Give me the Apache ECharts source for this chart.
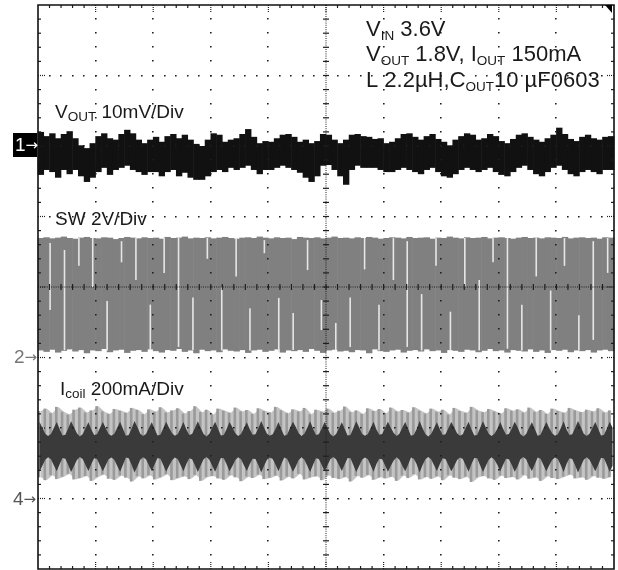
<!DOCTYPE html>
<html><head><meta charset="utf-8">
<script src="https://cdn.jsdelivr.net/npm/echarts@6/dist/echarts.min.js"></script>
<style>html,body{margin:0;padding:0;background:#fff}#c{width:618px;height:570px}</style>
</head><body><div id="c"></div>
<script>
// ---- scope geometry (divisions) ----
const DIVS_X = 10, DIVS_Y = 8, SUB = 5;
const COL = 0.1;   // one sample column = 0.1 div of time
const COL2 = 0.05; // finer sampling used for the coil-current envelope

// ---- channel 1 : VOUT ripple, mV relative to marker 1 (10 mV/div) ----
const voutHi = [2.0,1.4,1.8,1.1,1.7,2.1,1.1,0.1,-0.3,0.4,1.4,1.8,1.1,0.9,1.7,2.3,1.8,0.9,0.4,0.9,
1.3,0.6,1.4,1.7,1.1,1.6,0.9,0.3,0,0.9,
1.8,1.6,0.6,0.9,1.1,1.7,2.4,1.3,0.4,0.7,
0.6,1.1,1.6,1.7,1.3,0.6,0.9,0.4,0.7,1.7,
1.6,0.9,0.4,0.9,1.6,1.7,1.4,1.3,1.0,1.1,
0.4,0.6,1.1,1.7,1.8,1.3,0.9,1.4,1.7,1.0,
0.6,0.1,0.9,1.4,1.8,1.6,0.9,1.1,1.7,1.4,
0.7,0.4,1.0,1.6,1.8,1.3,0.9,0.6,1.1,1.6,
2.6,1.7,1.0,0.7,1.3,1.6,1.1,0.9,1.3,1.4];
const voutLo = [-4.1,-3.4,-3.7,-4.5,-3.4,-4.0,-3.4,-4.3,-5.1,-4.5,-3.7,-3.1,-4.1,-3.4,-3.1,-2.8,-3.4,-3.7,-4.1,-3.7,
-3.7,-4.3,-3.7,-3.4,-4.3,-3.8,-4.5,-4.8,-4.8,-4.3,
-3.7,-3.4,-3.7,-3.1,-3.4,-3.1,-2.8,-3.4,-4.0,-3.4,
-3.4,-3.1,-2.8,-3.1,-3.4,-3.8,-4.5,-5.1,-4.3,-2.8,
-2.7,-3.4,-4.3,-5.5,-3.4,-2.8,-3.1,-3.1,-3.1,-3.4,
-3.7,-3.7,-3.4,-3.1,-3.4,-3.7,-4.0,-3.4,-3.1,-3.7,
-4.3,-4.5,-4.0,-3.4,-3.1,-3.4,-3.7,-3.4,-3.1,-3.7,
-4.1,-4.3,-3.7,-3.1,-2.8,-3.4,-4.0,-4.3,-3.7,-3.1,
-2.8,-3.4,-4.0,-4.3,-3.7,-3.4,-3.7,-4.0,-3.4,-3.4];

// ---- channel 2 : SW node, V relative to marker 2 (2 V/div) ----
const swHi = [3.39,3.41,3.38,3.40,3.43,3.39,3.37,3.40,3.42,3.39,3.38,3.41,3.40,3.36,3.39,3.42,3.40,3.38,3.41,3.39,
3.40,3.37,3.42,3.39,3.40,3.43,3.38,3.40,3.39,3.41,3.38,3.40,3.42,3.39,3.37,3.40,3.41,3.39,3.43,3.40,
3.38,3.41,3.39,3.40,3.36,3.42,3.40,3.39,3.41,3.38,3.40,3.43,3.39,3.40,3.38,3.41,3.39,3.42,3.40,3.37,
3.39,3.41,3.40,3.38,3.42,3.39,3.40,3.41,3.37,3.40,3.39,3.43,3.40,3.38,3.41,3.39,3.40,3.42,3.38,3.40,
3.41,3.39,3.37,3.40,3.42,3.39,3.40,3.38,3.41,3.40,3.39,3.42,3.38,3.40,3.41,3.39,3.40,3.37,3.41,3.40];
const swLo = [0.20,0.16,0.22,0.14,0.19,0.23,0.17,0.21,0.12,0.20,0.18,0.24,0.15,0.20,0.22,0.13,0.19,0.21,0.16,0.23,
0.18,0.14,0.21,0.19,0.24,0.16,0.20,0.12,0.22,0.18,0.20,0.15,0.23,0.19,0.17,0.21,0.13,0.20,0.22,0.16,
0.19,0.23,0.14,0.20,0.18,0.21,0.16,0.24,0.19,0.13,0.20,0.22,0.17,0.19,0.15,0.21,0.20,0.12,0.23,0.18,
0.16,0.20,0.22,0.14,0.19,0.21,0.17,0.23,0.18,0.20,0.13,0.21,0.19,0.16,0.22,0.20,0.15,0.19,0.24,0.18,
0.20,0.14,0.21,0.19,0.17,0.23,0.16,0.20,0.13,0.21,0.19,0.22,0.15,0.20,0.18,0.21,0.14,0.20,0.22,0.18];
// thin light gaps through the SW band: time (div), top (V), bottom (V)
const swGapX   = [0.21,0.46,0.71,0.95,1.20,1.45,1.70,1.95,2.19,2.44,2.69,2.94,3.19,3.44,3.68,3.93,4.18,4.43,4.68,4.92,
5.17,5.42,5.67,5.92,6.17,6.41,6.66,6.91,7.16,7.41,7.66,7.90,8.15,8.40,8.65,8.90,9.14,9.39,9.64,9.89];
const swGapTop = [3.25,3.05,3.39,3.39,1.6,3.3,3.39,1.5,3.39,3.39,1.7,3.39,2.0,3.39,1.4,3.33,1.69,1.26,3.33,1.63,
0.98,1.7,3.39,1.5,3.39,3.3,1.8,3.39,1.3,3.39,2.2,3.39,3.39,1.5,3.39,1.9,3.39,1.2,3.3,3.39];
const swGapBot = [1.35,0.21,2.6,2.0,0.2,2.7,2.2,0.21,2.4,0.3,0.21,2.8,0.2,2.3,0.2,2.96,0.16,0.21,2.48,0.78,
0.21,0.3,2.5,0.2,2.2,0.3,0.2,2.6,0.2,2.0,0.2,2.7,0.25,0.2,2.3,0.2,2.6,0.2,0.5,2.4];

// ---- channel 4 : coil current, mA relative to marker 4 (200 mA/div) ----
const icoilOutHi = [248,255,242,260,246,238,252,258,244,250,262,247,240,254,249,243,257,251,239,253,
246,259,244,250,256,241,248,262,245,252,238,255,249,243,258,247,251,240,256,248,
244,260,250,242,253,247,257,239,252,246,255,243,249,261,245,250,240,256,248,254,
242,258,247,251,244,259,249,241,255,246,252,238,257,248,243,260,250,245,254,247,
241,256,249,253,244,258,246,251,240,255,248,243,257,250,245,252,247,256,244,250];
const icoilOutLo = [60,52,66,55,62,70,54,58,64,50,61,68,56,53,65,59,48,63,57,66,
54,60,69,52,58,63,55,67,50,61,64,57,53,66,60,49,62,58,68,55,
59,65,51,62,57,70,54,60,63,52,66,58,55,61,48,64,59,67,53,60,
57,62,50,65,58,69,54,61,56,63,52,66,59,55,62,47,60,64,57,53,
65,58,61,54,67,56,60,50,63,58,55,62,68,57,60,53,64,59,56,61];
// dense (dark) part of the coil current, sampled every 0.05 div
const icoilInHi = [
218,201,184,177,183,200,217,197,179,181,199, 219,202,185,176,182,199,216,196,180,182,200,
217,200,183,178,184,201,218,198,178,180,198, 220,203,184,177,183,200,216,197,179,181,199,
218,201,186,178,182,199,217,196,180,183,200, 219,200,183,176,184,201,218,198,179,180,197,
217,202,185,177,183,200,216,197,181,182,199, 220,201,184,178,182,198,217,196,178,181,200,
218,203,185,177,184,201,219,198,180,182,198, 217,200,183,176,183,199,216,197,179,180,199,
219,202,184,178,182,200,218,196,181,183,200, 218,201,186,177,184,201,217,198,178,181,197,
220,200,183,176,183,199,216,197,180,182,199, 217,202,185,178,182,200,218,196,179,180,200,
219,201,184,177,184,198,217,198,181,183,198, 218,203,183,176,183,201,216,197,178,181,199,
217,200,185,178,182,199,219,196,180,182,200, 220,202,184,177,184,200,217,198,179,180,198,
218,201];
const icoilInLo = [
76,93,110,117,111,94,77,97,115,113,95, 75,92,109,118,112,95,78,98,114,112,94,
77,94,111,116,110,93,76,96,116,114,96, 74,91,110,117,111,94,78,97,115,113,95,
76,93,108,116,112,95,77,98,114,111,94, 75,94,111,118,110,93,76,96,115,114,97,
77,92,109,117,111,94,78,97,113,112,95, 74,93,110,116,112,96,77,98,116,113,94,
76,91,109,117,110,93,75,96,114,112,96, 77,94,111,118,111,95,78,97,115,114,95,
75,92,110,116,112,94,76,98,113,111,94, 76,93,108,117,110,93,77,96,116,113,97,
74,94,111,118,111,95,78,97,114,112,95, 77,92,109,116,112,94,76,98,115,114,94,
75,93,110,117,110,96,77,96,113,111,96, 76,91,111,118,111,93,78,97,116,113,95,
77,94,109,116,112,95,75,98,114,112,94, 74,92,110,117,110,94,77,96,115,114,96,
76,93];

const FONT = '"Liberation Sans", Arial, Helvetica, sans-serif';
const ARROW_FONT = '"DejaVu Sans", sans-serif';

function columns(hi, lo){ return hi.map((h,i)=>[i*COL,(i+1)*COL,h,lo[i]]); }
function rectRender(color, frac){
  return function(params, api){
    const a = api.coord([api.value(0), api.value(2)]);
    const b = api.coord([api.value(1), api.value(3)]);
    const w = (b[0]-a[0])*frac;
    return {type:'rect', shape:{x:a[0]-0.3, y:a[1], width:w+0.6, height:b[1]-a[1]}, style:{fill:color}};
  };
}
function polyRender(hi, lo, step, color){
  return function(params, api){
    const pts = [];
    hi.forEach((v,i)=>pts.push(api.coord([(i+0.5)*step, v])));
    for (let i=lo.length-1;i>=0;i--) pts.push(api.coord([(i+0.5)*step, lo[i]]));
    return {type:'polygon', shape:{points:pts}, style:{fill:color}};
  };
}
function graticule(params, api){
  const ch = [];
  const P = (x,y)=>api.coord([x,y]);
  const C = '#1e1e1e';
  const dot = p=>({type:'rect', shape:{x:Math.round(p[0])-1, y:Math.round(p[1])-1, width:1.6, height:1.6}, style:{fill:C}});
  const ln = (x1,y1,x2,y2,w,dash)=>({type:'line', shape:{x1:x1,y1:y1,x2:x2,y2:y2}, style:{stroke:C, lineWidth:w||1, lineDash:dash||null}});
  for (let gx=1; gx<DIVS_X; gx++){ if (gx===DIVS_X/2) continue; for (let k=1;k<DIVS_Y*SUB;k++) ch.push(dot(P(gx,k/SUB))); }
  for (let gy=1; gy<DIVS_Y; gy++){ if (gy===DIVS_Y/2) continue; for (let k=1;k<DIVS_X*SUB;k++) ch.push(dot(P(k/SUB,gy))); }
  const t = P(DIVS_X/2, DIVS_Y), b = P(DIVS_X/2, 0);
  ch.push(ln(t[0],t[1],b[0],b[1],1,[1,1.2]));
  for (let k=1;k<DIVS_Y*SUB;k++){ const p=P(DIVS_X/2,k/SUB); ch.push(ln(p[0]-3,p[1],p[0]+3,p[1],1.2)); }
  const l = P(0, DIVS_Y/2), r = P(DIVS_X, DIVS_Y/2);
  ch.push(ln(l[0],l[1],r[0],r[1],1,[1,1.2]));
  for (let k=1;k<DIVS_X*SUB;k++){ const p=P(k/SUB,DIVS_Y/2); ch.push(ln(p[0],p[1]-3,p[0],p[1]+3,1.2)); }
  const tl = P(0,DIVS_Y), br = P(DIVS_X,0);
  for (let k=1;k<DIVS_X*SUB;k++){
    const p=P(k/SUB,0); const major = k%SUB===0; const L = major?8:3;
    ch.push(ln(p[0],tl[1],p[0],tl[1]+L,1.2,major?[1,1]:null));
    ch.push(ln(p[0],br[1],p[0],br[1]-L,1.2,major?[1,1]:null));
  }
  for (let k=1;k<DIVS_Y*SUB;k++){
    const p=P(0,k/SUB); const major = k%SUB===0; const L = major?8:3;
    ch.push(ln(tl[0],p[1],tl[0]+L,p[1],1.2,major?[1,1]:null));
    ch.push(ln(br[0],p[1],br[0]-L,p[1],1.2,major?[1,1]:null));
  }
  ch.push({type:'rect', shape:{x:tl[0], y:tl[1], width:br[0]-tl[0], height:br[1]-tl[1]}, style:{fill:null, stroke:'#111', lineWidth:1.6}});
  const tr = P(DIVS_X, DIVS_Y);
  ch.push({type:'polygon', shape:{points:[[tr[0]-9,tr[1]],[tr[0]-2,tr[1]],[tr[0]-2,tr[1]+8]]}, style:{fill:'#000'}});
  return {type:'group', children:ch};
}

const chart = echarts.init(document.getElementById('c'), null, {renderer:'canvas'});
const richHead = {m:{fontSize:22, fontFamily:FONT, lineHeight:26, verticalAlign:'middle', fill:'#1a1a1a'},
                  s:{fontSize:13.5, fontFamily:FONT, lineHeight:13, verticalAlign:'bottom', fill:'#1a1a1a'}};
const richLab = {m:{fontSize:19, fontFamily:FONT, lineHeight:22, verticalAlign:'middle', fill:'#1a1a1a'},
                 s:{fontSize:13.5, fontFamily:FONT, lineHeight:13, verticalAlign:'bottom', fill:'#1a1a1a'}};
function txt(x,y,text,rich){ return {type:'text', z:100, style:{x:x, y:y, text:text, rich:rich, verticalAlign:'top', align:'left'}}; }
function marker(x,y,num,color){
  return {type:'text', z:101, style:{x:x, y:y, verticalAlign:'middle', fill:color, text:'{n|'+num+'}{a|\u2192}',
    rich:{n:{fontSize:19, fontFamily:FONT, fill:color, lineHeight:20, verticalAlign:'middle'},
          a:{fontSize:15, fontFamily:ARROW_FONT, fill:color, lineHeight:20, verticalAlign:'middle'}}}};
}

chart.setOption({
  animation:false,
  backgroundColor:'#fff',
  grid:{left:38, top:5, width:576, height:564},
  xAxis:{type:'value', min:0, max:DIVS_X, show:false},
  yAxis:[
    {type:'value', min:-60, max:20, show:false},     // VOUT mV
    {type:'value', min:-6, max:10, show:false},      // SW V
    {type:'value', min:-200, max:1400, show:false},  // Icoil mA
    {type:'value', min:0, max:DIVS_Y, show:false}    // divisions
  ],
  series:[
    {type:'custom', yAxisIndex:0, data:columns(voutHi,voutLo), encode:{x:[0,1],y:[2,3]}, renderItem:rectRender('#111',1), z:2, silent:true},
    {type:'custom', yAxisIndex:1, data:columns(swHi,swLo), encode:{x:[0,1],y:[2,3]}, renderItem:rectRender('#808080',1), z:2, silent:true},
    {type:'custom', yAxisIndex:1, data:swGapX.map((x,i)=>[x,swGapTop[i],swGapBot[i]]), encode:{x:0,y:[1,2]}, z:3, silent:true,
      renderItem:function(params, api){ const a=api.coord([api.value(0),api.value(1)]), b=api.coord([api.value(0),api.value(2)]);
        return {type:'rect', shape:{x:a[0]-0.8,y:a[1],width:1.6,height:b[1]-a[1]}, style:{fill:'#e6e6e6'}}; }},
    {type:'custom', yAxisIndex:2, data:[[0]], renderItem:polyRender(icoilOutHi,icoilOutLo,COL,'#c4c4c4'), z:2, silent:true},
    {type:'custom', yAxisIndex:2, data:columns(icoilOutHi,icoilOutLo), encode:{x:[0,1],y:[2,3]}, renderItem:rectRender('#9a9a9a',0.35), z:2, silent:true},
    {type:'custom', yAxisIndex:2, data:[[0]], renderItem:polyRender(icoilInHi,icoilInLo,COL2,'#3a3a3a'), z:3, silent:true},
    {type:'custom', yAxisIndex:3, data:[[0]], renderItem:graticule, z:10, silent:true}
  ],
  graphic:[
    txt(366,17,'{m|V}{s|IN}{m| 3.6V}',richHead),
    txt(366,42,'{m|V}{s|OUT}{m| 1.8V, I}{s|OUT}{m| 150mA}',richHead),
    txt(366,68,'{m|L 2.2\u00b5H,C}{s|OUT}{m|10 \u00b5F0603}',richHead),
    txt(55,102,'{m|V}{s|OUT}{m| 10mV/Div}',richLab),
    txt(55,209,'{m|SW 2V/Div}',richLab),
    txt(60,379,'{m|I}{s|coil}{m| 200mA/Div}',richLab),
    {type:'rect', z:100, shape:{x:13,y:133,width:24,height:24}, style:{fill:'#000'}},
    marker(15,146,'1','#fff'),
    marker(14,358,'2','#777'),
    marker(13,500,'4','#555')
  ]
});
</script></body></html>
